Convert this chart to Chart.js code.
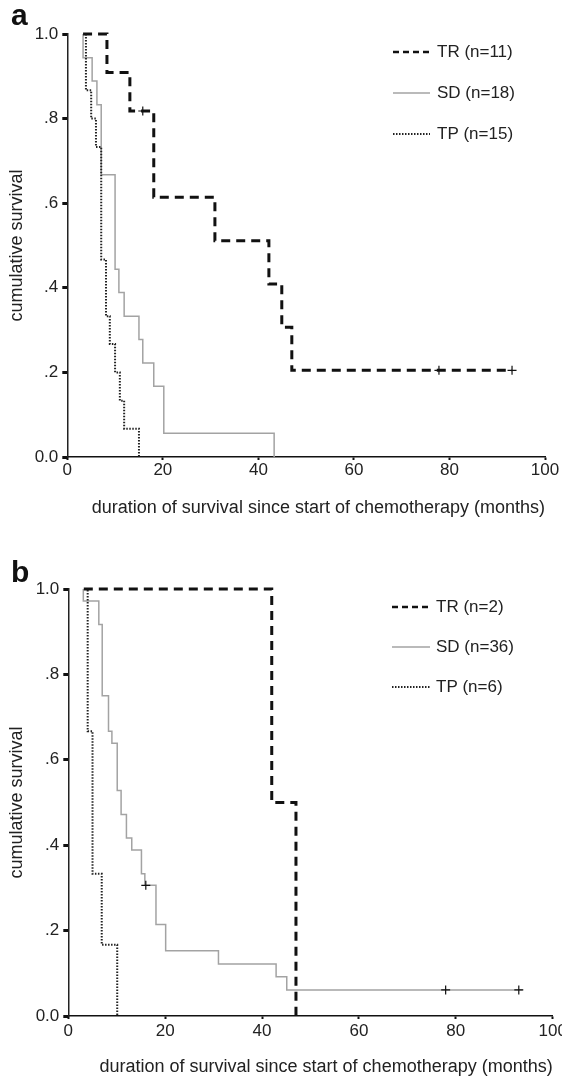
<!DOCTYPE html>
<html>
<head>
<meta charset="utf-8">
<script src="https://cdn.jsdelivr.net/npm/chart.js@4.4.0/dist/chart.umd.min.js"></script>
<style>
  html, body { margin: 0; padding: 0; background: #fff; }
  body { width: 562px; height: 1079px; position: relative; overflow: hidden; }
  canvas { position: absolute; left: 0; }
  #chart-a { top: 0; }
  #chart-b { top: 540px; }
</style>
</head>
<body>
<canvas id="chart-a" width="562" height="540"></canvas>
<canvas id="chart-b" width="562" height="539"></canvas>
<script>
// Kaplan-Meier curves (months, cumulative survival)

// panel a
const aLabels = ['TR (n=11)', 'SD (n=18)', 'TP (n=15)'];
const aTrTime = [3.3, 8.3, 13.1, 18.1, 30.9, 42.2, 44.9, 47.0, 93.1];
const aTrSurv = [1, 0.909, 0.818, 0.614, 0.511, 0.409, 0.307, 0.205, 0.205];
const aSdTime = [3.3, 3.3, 5.2, 6.2, 7.1, 10.0, 10.8, 11.9, 15.0, 15.8, 18.1, 20.2, 43.3];
const aSdSurv = [1, 0.944, 0.889, 0.833, 0.667, 0.444, 0.389, 0.333, 0.278, 0.222, 0.167, 0.056, 0];
const aTpTime = [3.9, 3.9, 5.0, 6.0, 7.1, 8.1, 8.9, 10.0, 11.0, 11.9, 15.0];
const aTpSurv = [1, 0.867, 0.8, 0.733, 0.467, 0.333, 0.267, 0.2, 0.133, 0.067, 0];
const aCensTime = [15.8, 77.8, 93.1];
const aCensSurv = [0.818, 0.205, 0.205];

// panel b
const bLabels = ['TR (n=2)', 'SD (n=36)', 'TP (n=6)'];
const bTrTime = [3.2, 42.0, 47.0];
const bTrSurv = [1, 0.5, 0];
const bSdTime = [3.1, 3.1, 6.3, 7.0, 8.3, 9.0, 10.1, 10.9, 12.0, 13.1, 15.1, 15.8, 18.1, 20.1, 31.0, 42.9, 45.1, 93.8];
const bSdSurv = [1, 0.972, 0.917, 0.75, 0.667, 0.639, 0.528, 0.472, 0.417, 0.389, 0.333, 0.306, 0.214, 0.153, 0.122, 0.092, 0.061, 0.061];
const bTpTime = [3.6, 4.0, 5.0, 6.9, 10.1];
const bTpSurv = [1, 0.667, 0.333, 0.167, 0];
const bCensTime = [16.0, 77.9, 93.0];
const bCensSurv = [0.306, 0.061, 0.061];

const xTicksMax = 100;
const xTitle = 'duration of survival since start of chemotherapy (months)';
const yTitle = 'cumulative survival';

const FONT = '"Liberation Sans", Arial, Helvetica, sans-serif';
Chart.defaults.font.family = FONT;
Chart.defaults.color = '#222';

function toPoints(xs, ys) {
    return xs.map((x, i) => ({ x: x, y: ys[i] }));
}

// panel letter + legend drawn inside the plot
const panelDecor = {
    id: 'panelDecor',
    afterDraw(chart, args, opts) {
        const ctx = chart.ctx;
        ctx.save();
        ctx.fillStyle = '#111';
        ctx.font = 'bold 30px ' + FONT;
        ctx.textAlign = 'left';
        ctx.textBaseline = 'alphabetic';
        ctx.fillText(opts.letter, opts.letterX, opts.letterY);

        ctx.font = '17px ' + FONT;
        ctx.textBaseline = 'middle';
        opts.rows.forEach((dsIndex, i) => {
            const ds = chart.data.datasets[dsIndex];
            const y = opts.legendY[i];
            ctx.strokeStyle = ds.borderColor;
            ctx.lineWidth = ds.legendWidth || ds.borderWidth;
            ctx.setLineDash(ds.legendDash || ds.borderDash || []);
            ctx.beginPath();
            ctx.moveTo(opts.lineX[0], y);
            ctx.lineTo(opts.lineX[1], y);
            ctx.stroke();
            ctx.setLineDash([]);
            ctx.fillStyle = '#222';
            ctx.fillText(ds.label, opts.textX, y);
        });
        ctx.restore();
    }
};

function buildChart(id, p) {
    const ctx = document.getElementById(id).getContext('2d');
    return new Chart(ctx, {
        type: 'line',
        data: {
            datasets: [
                {
                    label: 'censored',
                    data: toPoints(p.censTime, p.censSurv),
                    showLine: false,
                    clip: false,
                    pointStyle: 'cross',
                    pointRadius: 4.5,
                    pointBorderWidth: 1.2,
                    pointBorderColor: '#111',
                    borderColor: '#111'
                },
                {
                    label: p.labels[0],
                    data: toPoints(p.trTime, p.trSurv),
                    stepped: 'before',
                    clip: false,
                    borderColor: '#111',
                    borderWidth: 3,
                    borderDash: [9, 6],
                    legendDash: [6, 4],
                    legendWidth: 2.5,
                    pointRadius: 0,
                    fill: false
                },
                {
                    label: p.labels[2],
                    data: toPoints(p.tpTime, p.tpSurv),
                    stepped: 'before',
                    clip: false,
                    borderColor: '#222',
                    borderWidth: 2,
                    borderDash: [1.5, 1.5],
                    pointRadius: 0,
                    fill: false
                },
                {
                    label: p.labels[1],
                    data: toPoints(p.sdTime, p.sdSurv),
                    stepped: 'before',
                    clip: false,
                    borderColor: '#a3a3a3',
                    borderWidth: 1.5,
                    pointRadius: 0,
                    fill: false
                }
            ]
        },
        options: {
            responsive: false,
            animation: false,
            devicePixelRatio: 1,
            layout: { padding: p.padding },
            plugins: {
                legend: { display: false },
                tooltip: { enabled: false },
                panelDecor: p.decor
            },
            scales: {
                x: {
                    type: 'linear',
                    min: 0,
                    max: xTicksMax,
                    border: { display: true, color: '#111', width: 1.5 },
                    grid: { display: true, drawOnChartArea: false, drawTicks: true, tickLength: 3, tickWidth: 2, tickColor: '#111' },
                    ticks: { stepSize: 20, padding: p.xTickPad, maxRotation: 0, autoSkip: false, color: '#222', font: { size: 17 } },
                    title: { display: true, text: xTitle, align: 'end', color: '#222', font: { size: 18 }, padding: { top: 0, bottom: p.xTitlePad } },
                    afterFit: (s) => { s.height = p.xAxisH; s.paddingLeft = 0; s.paddingRight = 0; }
                },
                y: {
                    type: 'linear',
                    min: 0,
                    max: 1,
                    border: { display: true, color: '#222', width: 1.5 },
                    grid: { display: true, drawOnChartArea: false, drawTicks: true, tickLength: 5, tickWidth: 3, tickColor: '#111' },
                    ticks: {
                        stepSize: 0.2,
                        padding: 4,
                        color: '#222',
                        font: { size: 17 },
                        callback: (v) => v > 0.99 ? '1.0' : (v < 0.01 ? '0.0' : '.' + Math.round(v * 10))
                    },
                    title: { display: true, text: yTitle, color: '#222', font: { size: 18 }, padding: { top: 6, bottom: 0 } },
                    afterFit: (s) => { s.width = p.yAxisW; s.paddingTop = 0; s.paddingBottom = 0; }
                }
            }
        },
        plugins: [panelDecor]
    });
}

buildChart('chart-a', {
    labels: aLabels,
    trTime: aTrTime, trSurv: aTrSurv,
    sdTime: aSdTime, sdSurv: aSdSurv,
    tpTime: aTpTime, tpSurv: aTpSurv,
    censTime: aCensTime, censSurv: aCensSurv,
    padding: { top: 34, left: 0, right: 17, bottom: 13 },
    yAxisW: 67.3,
    xAxisH: 70,
    xTickPad: 0.5,
    xTitlePad: 8.2,
    decor: { letter: 'a', letterX: 11, letterY: 25, rows: [1, 3, 2], legendY: [52, 93, 134], lineX: [393, 430], textX: 437 }
});

buildChart('chart-b', {
    labels: bLabels,
    trTime: bTrTime, trSurv: bTrSurv,
    sdTime: bSdTime, sdSurv: bSdSurv,
    tpTime: bTpTime, tpSurv: bTpSurv,
    censTime: bCensTime, censSurv: bCensSurv,
    padding: { top: 49, left: 0, right: 9.3, bottom: 1 },
    yAxisW: 68.3,
    xAxisH: 62,
    xTickPad: 2.5,
    xTitlePad: 0.5,
    decor: { letter: 'b', letterX: 11, letterY: 42, rows: [1, 3, 2], legendY: [67, 107, 147], lineX: [392, 430], textX: 436 }
});
</script>
</body>
</html>
